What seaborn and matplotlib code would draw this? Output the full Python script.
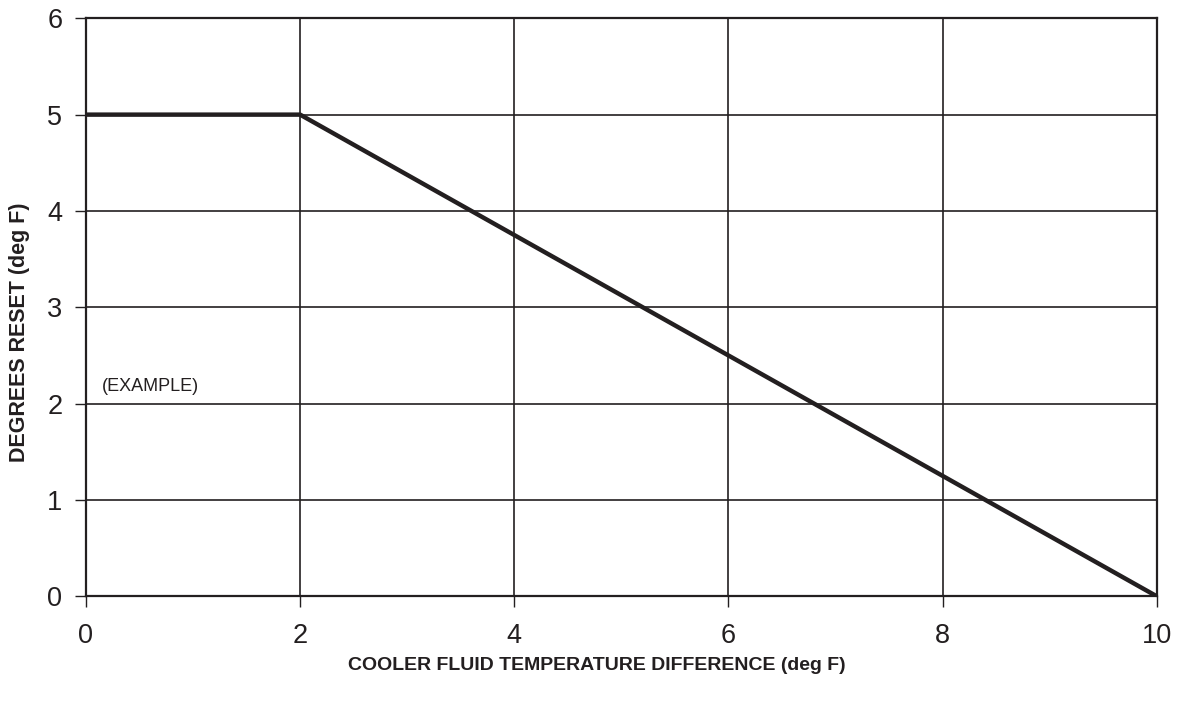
import pandas as pd
import matplotlib.pyplot as plt
import seaborn as sns

# data
temp_diff = [0, 2, 10]
degrees_reset = [5, 5, 0]
x_ticks = [0, 2, 4, 6, 8, 10]
y_ticks = [0, 1, 2, 3, 4, 5, 6]

df = pd.DataFrame({'x': temp_diff, 'y': degrees_reset})

sns.set_theme(style='white')
plt.rcParams['font.family'] = ['Liberation Sans', 'DejaVu Sans']

ink = '#231f20'
fig = plt.figure(figsize=(11.84, 7.04), dpi=100)
ax = fig.add_axes([0.0726, 0.153, 0.9044, 0.821])

sns.lineplot(data=df, x='x', y='y', ax=ax, color=ink, linewidth=3.2,
             solid_capstyle='butt', zorder=3)

ax.set_xlim(0, 10)
ax.set_ylim(0, 6)
ax.set_xticks(x_ticks)
ax.set_yticks(y_ticks)
ax.grid(True, color=ink, linewidth=1.2)
for s in ax.spines.values():
    s.set_color(ink)
    s.set_linewidth(1.6)
ax.tick_params(axis='both', direction='out', length=8, width=1.0, color=ink,
               labelsize=19.5, labelcolor=ink, bottom=True, left=True)
ax.tick_params(axis='x', pad=11)
ax.tick_params(axis='y', pad=9)

# labels sit a little off-centre in the original
ax.set_xlabel('COOLER FLUID TEMPERATURE DIFFERENCE (deg F)', fontsize=14,
              fontweight='bold', color=ink)
ax.xaxis.set_label_coords(0.477, -0.105)
ax.set_ylabel('DEGREES RESET (deg F)', fontsize=15.5, fontweight='bold',
              color=ink)
ax.yaxis.set_label_coords(-0.052, 0.457)

ax.text(0.15, 2.18, '(EXAMPLE)', fontsize=13, color=ink, va='center')

fig.savefig('out.png', dpi=100)
